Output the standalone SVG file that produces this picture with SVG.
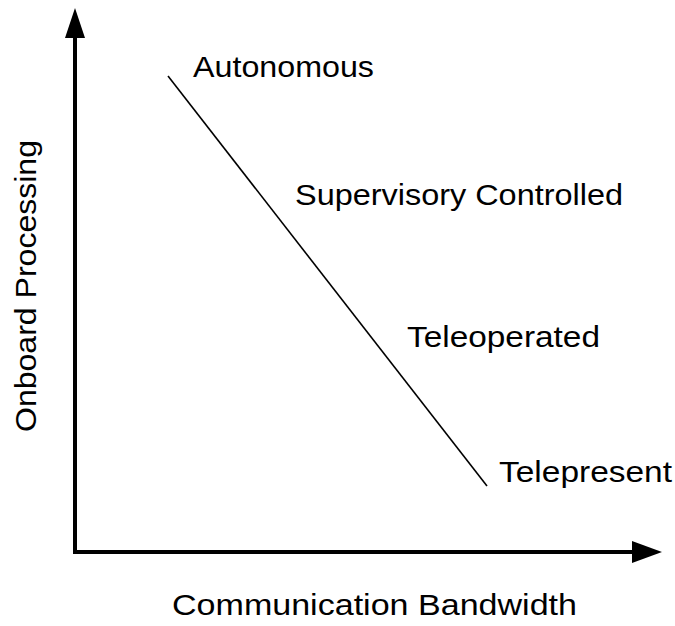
<svg xmlns="http://www.w3.org/2000/svg" width="675" height="626" viewBox="0 0 675 626">
<style>
text{font-family:"Liberation Sans",Arial,sans-serif;font-size:30px;fill:#000}
.axis{stroke:#000;stroke-width:4;fill:none}
.head{fill:#000}
</style>
<rect width="675" height="626" fill="#fff"/>
<g id="connectors">
<line class="axis" x1="75" y1="554" x2="75" y2="34"/>
<polygon class="head" points="75,8 65,38 85,38"/>
<line class="axis" x1="73" y1="552" x2="636" y2="552"/>
<polygon class="head" points="662,552 632,541 632,563"/>
<line x1="168" y1="76" x2="487" y2="486" stroke="#000" stroke-width="1.6"/>
</g>
<g id="autonomous"><text x="193" y="77" textLength="181" lengthAdjust="spacingAndGlyphs">Autonomous</text></g>
<g id="supervisory"><text x="295" y="205" textLength="328" lengthAdjust="spacingAndGlyphs">Supervisory Controlled</text></g>
<g id="teleoperated"><text x="407" y="347" textLength="193" lengthAdjust="spacingAndGlyphs">Teleoperated</text></g>
<g id="telepresent"><text x="499" y="482" textLength="173" lengthAdjust="spacingAndGlyphs">Telepresent</text></g>
<g id="xlabel"><text x="172" y="615" textLength="405" lengthAdjust="spacingAndGlyphs">Communication Bandwidth</text></g>
<g id="ylabel"><text transform="translate(36,432) rotate(-90)" x="0" y="0" textLength="292" lengthAdjust="spacingAndGlyphs">Onboard Processing</text></g>
</svg>
